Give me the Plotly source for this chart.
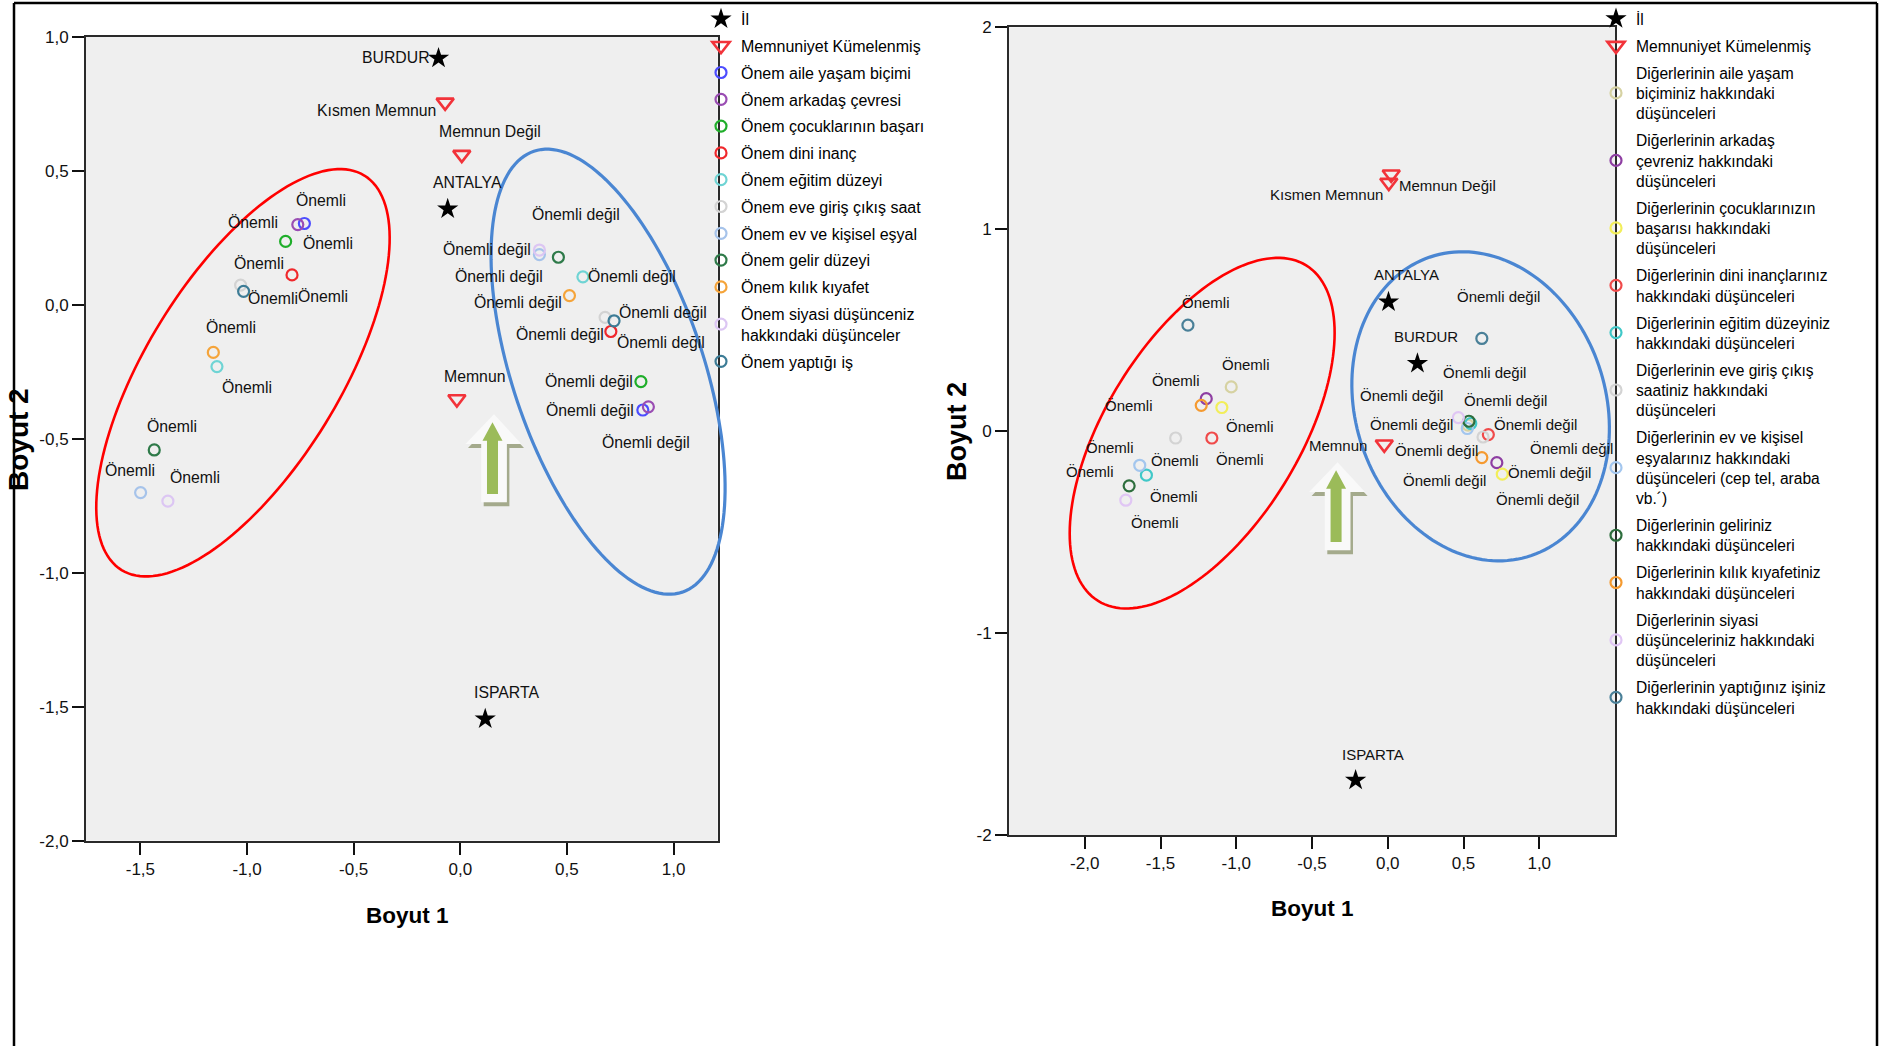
import numpy as np
import plotly.graph_objects as go

W, H = 1881, 1046

# ------------------------------------------------------------------ data
# Left panel (Önem ...)
left_names = [
    "Önem aile yaşam biçimi", "Önem arkadaş çevresi", "Önem çocuklarının başarı",
    "Önem dini inanç", "Önem eğitim düzeyi", "Önem eve giriş çıkış saat",
    "Önem ev ve kişisel eşyal", "Önem gelir düzeyi", "Önem kılık kıyafet",
    "Önem siyasi düşünceniz<br>hakkındaki düşünceler", "Önem yaptığı iş",
]
left_imp_x = [-0.731, -0.762, -0.819, -0.789, -1.141, -1.030, -1.499, -1.435, -1.158, -1.371, -1.016]
left_imp_y = [0.303, 0.299, 0.236, 0.111, -0.231, 0.073, -0.701, -0.542, -0.178, -0.733, 0.050]
left_not_x = [0.856, 0.882, 0.847, 0.706, 0.575, 0.679, 0.371, 0.460, 0.512, 0.371, 0.721]
left_not_y = [-0.393, -0.381, -0.287, -0.100, 0.104, -0.047, 0.187, 0.177, 0.034, 0.204, -0.060]
left_sat_names = ["Kısmen Memnun", "Memnun Değil", "Memnun"]
left_sat_x = [-0.071, 0.007, -0.016]
left_sat_y = [0.755, 0.560, -0.352]
left_il_names = ["BURDUR", "ANTALYA", "ISPARTA"]
left_il_x = [-0.102, -0.059, 0.117]
left_il_y = [0.920, 0.357, -1.546]
left_xticks = [-1.5, -1.0, -0.5, 0.0, 0.5, 1.0]
left_yticks = [-2.0, -1.5, -1.0, -0.5, 0.0, 0.5, 1.0]

# Right panel (Diğerlerinin ...)
right_names = [
    "Diğerlerinin aile yaşam<br>biçiminiz hakkındaki<br>düşünceleri",
    "Diğerlerinin arkadaş<br>çevreniz hakkındaki<br>düşünceleri",
    "Diğerlerinin çocuklarınızın<br>başarısı hakkındaki<br>düşünceleri",
    "Diğerlerinin dini inançlarınız<br>hakkındaki düşünceleri",
    "Diğerlerinin eğitim düzeyiniz<br>hakkındaki düşünceleri",
    "Diğerlerinin eve giriş çıkış<br>saatiniz hakkındaki<br>düşünceleri",
    "Diğerlerinin ev ve kişisel<br>eşyalarınız hakkındaki<br>düşünceleri (cep tel, araba<br>vb.´)",
    "Diğerlerinin geliriniz<br>hakkındaki düşünceleri",
    "Diğerlerinin kılık kıyafetiniz<br>hakkındaki düşünceleri",
    "Diğerlerinin siyasi<br>düşünceleriniz hakkındaki<br>düşünceleri",
    "Diğerlerinin yaptığınız işiniz<br>hakkındaki düşünceleri",
]
right_imp_x = [-1.033, -1.198, -1.095, -1.161, -1.593, -1.400, -1.637, -1.707, -1.231, -1.729, -1.319]
right_imp_y = [0.219, 0.161, 0.117, -0.034, -0.218, -0.034, -0.169, -0.271, 0.128, -0.342, 0.525]
right_not_x = [0.530, 0.720, 0.756, 0.664, 0.548, 0.629, 0.525, 0.536, 0.621, 0.466, 0.621]
right_not_y = [0.030, -0.156, -0.213, -0.017, 0.038, -0.029, 0.013, 0.049, -0.131, 0.067, 0.459]
right_sat_names = ["Kısmen Memnun", "Memnun Değil", "Memnun"]
right_sat_x = [0.007, 0.023, -0.023]
right_sat_y = [1.231, 1.272, -0.065]
right_il_names = ["ANTALYA", "BURDUR", "ISPARTA"]
right_il_x = [0.005, 0.196, -0.212]
right_il_y = [0.640, 0.335, -1.729]
right_xticks = [-2.0, -1.5, -1.0, -0.5, 0.0, 0.5, 1.0]
right_yticks = [-2, -1, 0, 1, 2]

imp_label = "Önemli"
not_label = "Önemli değil"

# ------------------------------------------------------------------ styles
left_colors = ["#4d4dff", "#9a4db3", "#1fae2a", "#f0282c", "#6fd4d4", "#d3d3d3",
               "#a6c3ea", "#2e7a49", "#f5a43a", "#dcc6f3", "#3d7c96"]
right_colors = ["#d6d2a2", "#8e3ea2", "#f2ee5a", "#f04a4a", "#40c8c8", "#d3d3d3",
                "#a3c6ee", "#2d6e3d", "#f59a30", "#e0c6f4", "#4a8098"]

# label offsets in screen pixels (dx right, dy down)
left_imp_off = [(17, -23), (-45, -2), (42, 2), (31, 22), (30, 21), (18, -22),
                (-11, -22), (18, -23), (18, -25), (27, -24), (29, 7)]
left_not_off = [(-53, 0), (-2, 36), (-52, 0), (-51, 3), (49, 0), (56, 25),
                (-40, 22), (18, -43), (-51, 7), (-52, -1), (49, -8)]
left_sat_off = [(-69, 8), (28, -23), (18, -23)]
left_il_off = [(-43, -1), (20, -27), (21, -27)]
right_imp_off = [(15, -22), (-30, -18), (28, 19), (28, 21), (28, 21), (-1, 22),
                 (-30, -18), (-39, -14), (-72, 0), (29, 22), (18, -23)]
right_not_off = [(-32, 25), (41, 37), (47, -2), (47, -10), (35, -23), (88, 11),
                 (-56, -4), (16, -49), (-37, 23), (-57, -22), (17, -42)]
right_sat_off = [(-62, 12), (56, 11), (-46, 1)]
right_il_off = [(18, -27), (9, -27), (17.5, -26)]

REG = "Liberation Sans, Arial, sans-serif"

# plot areas (pixels)
L_BOX = (86.0, 717.7, 36.7, 840.7)     # x0, x1, ytop, ybottom
R_BOX = (1009.0, 1615.0, 27.3, 835.0)
L_XR, L_YR = (-1.755, 1.207), (-2.0, 1.0)
R_XR, R_YR = (-2.5, 1.5), (-2.0, 2.0)


def make_d2p(box, xr, yr):
    x0, x1, yt, yb = box
    def f(x, y):
        px = x0 + (np.asarray(x) - xr[0]) / (xr[1] - xr[0]) * (x1 - x0)
        py = yb - (np.asarray(y) - yr[0]) / (yr[1] - yr[0]) * (yb - yt)
        return px, py
    return f


l_d2p = make_d2p(L_BOX, L_XR, L_YR)
r_d2p = make_d2p(R_BOX, R_XR, R_YR)


def ppath(pts):
    return "M " + " L ".join(f"{x / W:.5f},{1 - y / H:.5f}" for x, y in pts) + " Z"


def ellipse_shape(cx, cy, a, b, phi_deg, d2p, color, width):
    pcx, pcy = d2p(cx, cy)
    t = np.linspace(0, 2 * np.pi, 161)
    ph = np.radians(phi_deg)
    xs = pcx + a * np.cos(ph) * np.cos(t) - b * np.sin(ph) * np.sin(t)
    ys = pcy + a * np.sin(ph) * np.cos(t) + b * np.cos(ph) * np.sin(t)
    return dict(type="path", xref="paper", yref="paper", path=ppath(zip(xs, ys)),
                line=dict(color=color, width=width), fillcolor="rgba(0,0,0,0)", layer="above")


def arrow_shapes(ax, ay, d2p):
    px, py = d2p(ax, ay)
    white = [(1.5, -8), (29, 21.6), (14.4, 21.6), (14.4, 80), (-11.3, 80), (-11.3, 21.6), (-27, 21.6)]
    green = [(0, 0), (10, 18.3), (5.5, 18.3), (5.5, 71.6), (-5.5, 71.6), (-5.5, 18.3), (-10, 18.3)]
    shadow = [(x + 2.5, y + 4) for x, y in white]
    out = []
    for poly, col in ((shadow, "#a4aa8c"), (white, "#f9f9f9"), (green, "#9bbb59")):
        pts = [(px + x, py + y) for x, y in poly]
        out.append(dict(type="path", xref="paper", yref="paper", path=ppath(pts),
                        line=dict(width=0), fillcolor=col, layer="above"))
    return out


fig = go.Figure()


def add_panel(xa, ya, leg, il_x, il_y, sat_x, sat_y, names, colors, ix, iy, nx, ny):
    fig.add_trace(go.Scatter(x=il_x, y=il_y, mode="markers", name="İl", legend=leg,
                             legendgroup=leg + "il", xaxis=xa, yaxis=ya,
                             marker=dict(symbol="star", size=16, color="black")))
    fig.add_trace(go.Scatter(x=sat_x, y=sat_y, mode="markers", name="Memnuniyet Kümelenmiş",
                             legend=leg, legendgroup=leg + "sat", xaxis=xa, yaxis=ya,
                             marker=dict(symbol="triangle-down-open", size=15, color="#f2333a",
                                         line=dict(width=2.6, color="#f2333a"))))
    for i, nm in enumerate(names):
        fig.add_trace(go.Scatter(x=[ix[i], nx[i]], y=[iy[i], ny[i]], mode="markers", name=nm,
                                 legend=leg, legendgroup=leg + str(i), xaxis=xa, yaxis=ya,
                                 marker=dict(symbol="circle-open", size=11, color=colors[i],
                                             line=dict(width=2.2, color=colors[i]))))


add_panel("x", "y", "legend", left_il_x, left_il_y, left_sat_x, left_sat_y, left_names,
          left_colors, left_imp_x, left_imp_y, left_not_x, left_not_y)
add_panel("x2", "y2", "legend2", right_il_x, right_il_y, right_sat_x, right_sat_y, right_names,
          right_colors, right_imp_x, right_imp_y, right_not_x, right_not_y)

annotations = []


def add_labels(xr, yr, xs, ys, texts, offs, size):
    for x, y, t, (dx, dy) in zip(xs, ys, texts, offs):
        annotations.append(dict(x=x, y=y, xref=xr, yref=yr, text=t, showarrow=False,
                                xshift=dx, yshift=-dy, xanchor="center", yanchor="middle",
                                font=dict(family=REG, size=size, color="#111")))


add_labels("x", "y", left_imp_x, left_imp_y, [imp_label] * 11, left_imp_off, 15.8)
add_labels("x", "y", left_not_x, left_not_y, [not_label] * 11, left_not_off, 15.8)
add_labels("x", "y", left_sat_x, left_sat_y, left_sat_names, left_sat_off, 15.8)
add_labels("x", "y", left_il_x, left_il_y, left_il_names, left_il_off, 15.8)
add_labels("x2", "y2", right_imp_x, right_imp_y, [imp_label] * 11, right_imp_off, 15)
add_labels("x2", "y2", right_not_x, right_not_y, [not_label] * 11, right_not_off, 15)
add_labels("x2", "y2", right_sat_x, right_sat_y, right_sat_names, right_sat_off, 15)
add_labels("x2", "y2", right_il_x, right_il_y, right_il_names, right_il_off, 15)


def title_ann(text, px, py, angle=0, size=22.5):
    annotations.append(dict(x=px / W, y=1 - py / H, xref="paper", yref="paper", text="<b>" + text + "</b>",
                            showarrow=False, textangle=angle, xanchor="center", yanchor="middle",
                            font=dict(family=REG, size=size, color="black")))


title_ann("Boyut 1", 407, 915)
title_ann("Boyut 1", 1312, 908)
title_ann("Boyut 2", 18, 440, -90, 28)
title_ann("Boyut 2", 957, 432, -90, 27)

shapes = []
shapes.append(ellipse_shape(-1.019, -0.254, 231.6, 96.8, -58.4, l_d2p, "#ff0000", 2.6))
shapes.append(ellipse_shape(0.693, -0.250, 232.6, 95.5, 71.4, l_d2p, "#4a86d2", 3.2))
shapes.append(ellipse_shape(-1.225, -0.010, 197.4, 96.5, -58.2, r_d2p, "#ff0000", 2.6))
shapes.append(ellipse_shape(0.613, 0.123, 157.6, 125.0, 71.2, r_d2p, "#4a86d2", 3.2))
shapes += arrow_shapes(0.151, -0.439, l_d2p)
shapes += arrow_shapes(-0.341, -0.194, r_d2p)
# outer frame
for x0, y0, x1, y1 in ((14, 3, 1877, 3), (14, 3, 14, 1046), (1877, 3, 1877, 1046)):
    shapes.append(dict(type="line", xref="paper", yref="paper", x0=x0 / W, y0=1 - y0 / H,
                       x1=x1 / W, y1=1 - y1 / H, line=dict(color="black", width=2.5)))


def tick_text(vals, fmt):
    return [format(v, fmt).replace(".", ",") for v in vals]


def axis_common(domain, rng, ticks, fmt, anchor):
    return dict(domain=domain, range=list(rng), tickmode="array", tickvals=ticks,
                ticktext=tick_text(ticks, fmt), ticks="outside",
                ticklen=12, tickwidth=2, tickcolor="#111", showline=True, linecolor="#2a2a2a",
                linewidth=2, mirror=True, showgrid=False, zeroline=False, anchor=anchor,
                automargin=False, fixedrange=True,
                tickfont=dict(family=REG, size=17, color="#111"))


fig.update_layout(
    width=W, height=H, margin=dict(l=0, r=0, t=0, b=0),
    paper_bgcolor="white", plot_bgcolor="#efefef", separators=",.",
    xaxis=axis_common([L_BOX[0] / W, L_BOX[1] / W], L_XR, left_xticks, ".1f", "y"),
    yaxis=axis_common([1 - L_BOX[3] / H, 1 - L_BOX[2] / H], L_YR, left_yticks, ".1f", "x"),
    xaxis2=axis_common([R_BOX[0] / W, R_BOX[1] / W], R_XR, right_xticks, ".1f", "y2"),
    yaxis2=axis_common([1 - R_BOX[3] / H, 1 - R_BOX[2] / H], R_YR, right_yticks, "d", "x2"),
    legend=dict(x=701 / W, y=1 - 2 / H, xanchor="left", yanchor="top", bgcolor="rgba(0,0,0,0)",
                font=dict(family=REG, size=16, color="black"), tracegroupgap=3, borderwidth=0),
    legend2=dict(x=1596 / W, y=1 - 2 / H, xanchor="left", yanchor="top", bgcolor="rgba(0,0,0,0)",
                 font=dict(family=REG, size=15.6, color="black"), tracegroupgap=3.7, borderwidth=0),
    showlegend=True, annotations=annotations, shapes=shapes,
)

fig.write_html("out.html")
